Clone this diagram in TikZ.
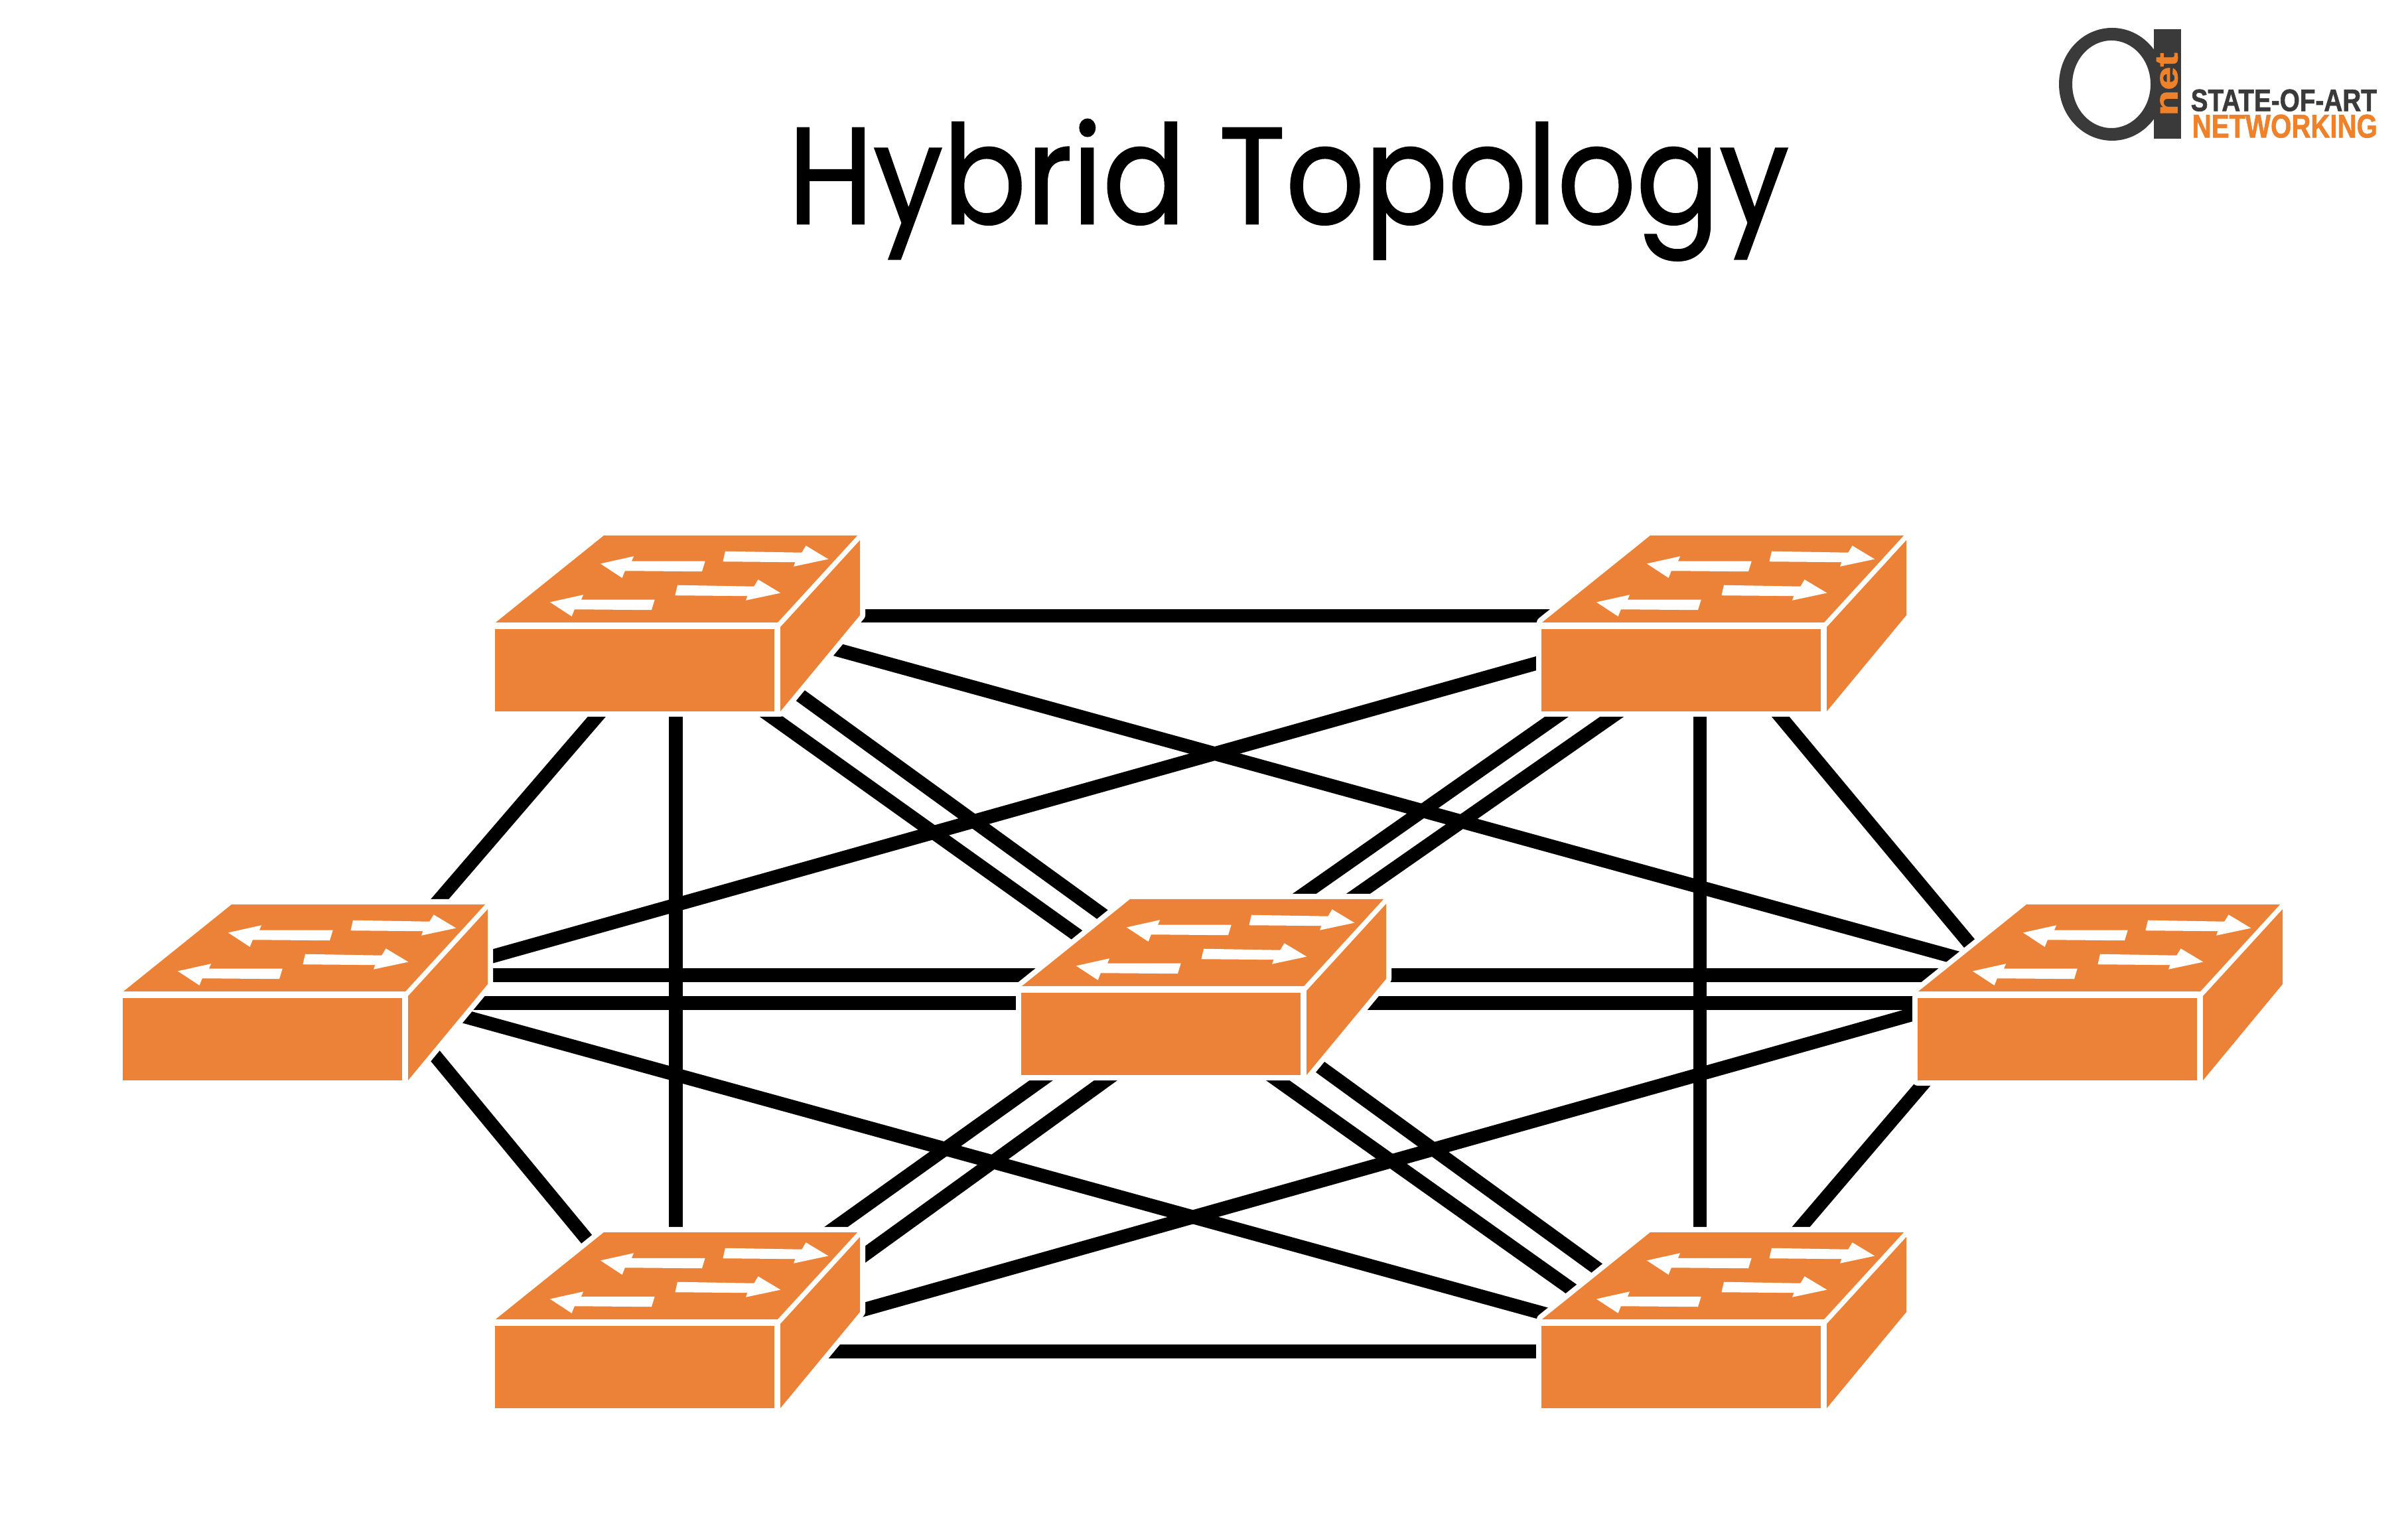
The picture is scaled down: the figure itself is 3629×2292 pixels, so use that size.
\documentclass[tikz,border=0pt]{standalone}
\usepackage{fontspec}
\usepackage{graphicx}
\setmainfont{Poppins}[FakeBold=1.2]
\newfontfamily\logofont{Liberation Sans}[FakeBold=1.5]
\definecolor{swor}{HTML}{EC8237}
\definecolor{logodark}{HTML}{3A3A3A}
\definecolor{logoor}{HTML}{EE8129}
\tikzset{
  link/.style={draw=black,line width=0.205cm,shorten >=-0.3cm,shorten <=-0.3cm},
  swface/.style={fill=swor,draw=none},
  swarrow/.style={fill=white,draw=white,line width=0.025cm},
  netswitch/.pic={
    \fill[white,draw=white,line width=0.16cm,line join=round]
      (0,265)--(0,141)--(1,131)--(164,0)--(546,0)--(550,7)--(550,120)--(430,265)--cycle;
    \path[swface] (1,131)--(426,131)--(546,0)--(164,0)--cycle;
    \path[swface] (0,141)--(421,141)--(421,265)--(0,265)--cycle;
    \path[swface] (430,138)--(550,7)--(550,120)--(430,265)--cycle;
    \path[swarrow] (162,43)--(207,33)--(204,40)--(315,40)--(311,53)--(195,52)--(191,62)--cycle;
    \path[swarrow] (348,25)--(463,27)--(469,17)--(499,35)--(452,45)--(454,39)--(345,38)--cycle;
    \begin{scope}[shift={(-72,51)}]
      \path[swarrow] (348,25)--(463,27)--(469,17)--(499,35)--(452,45)--(454,39)--(345,38)--cycle;
    \end{scope}
    \begin{scope}[shift={(-76,58)}]
      \path[swarrow] (162,43)--(207,33)--(204,40)--(315,40)--(311,53)--(195,52)--(191,62)--cycle;
    \end{scope}
  }
}
\begin{document}
\begin{tikzpicture}[x=0.01cm,y=-0.01cm]
\useasboundingbox (0,0) rectangle (3629,2292);
\fill[white] (0,0) rectangle (3629,2292);
% connector end points (in units of the 1568-wide view)
\begin{scope}[scale=2.3144]
\coordinate (a1) at (563,401);   \coordinate (a2) at (1010,401);
\coordinate (b1) at (545,423);   \coordinate (b2) at (1272,623);
\coordinate (c1) at (1000,432);  \coordinate (c2) at (323,622);
\coordinate (d1) at (303,662);   \coordinate (d2) at (1008,856);
\coordinate (e1) at (1247,660);  \coordinate (e2) at (565,852);
\coordinate (f1) at (540,880);   \coordinate (f2) at (1000,880);
\coordinate (g1) at (390,465);   \coordinate (g2) at (285,587);
\coordinate (h1) at (440,465);   \coordinate (h2) at (440,800);
\coordinate (i1) at (1107,465);  \coordinate (i2) at (1107,800);
\coordinate (j1) at (1158,465);  \coordinate (j2) at (1283,615);
\coordinate (k1) at (283,687);   \coordinate (k2) at (383,808);
\coordinate (l1) at (1252,706);  \coordinate (l2) at (1170,802);
\coordinate (m1) at (323,635);   \coordinate (m2) at (675,635);
\coordinate (n1) at (315,653);   \coordinate (n2) at (660,653);
\coordinate (o1) at (907,635);   \coordinate (o2) at (1260,635);
\coordinate (p1) at (890,653);   \coordinate (p2) at (1247,653);
\coordinate (q1) at (520,452);   \coordinate (q2) at (720,597);
\coordinate (r1) at (500,465);   \coordinate (r2) at (703,610);
\coordinate (s1) at (1016,465);  \coordinate (s2) at (845,585);
\coordinate (t1) at (1052,465);  \coordinate (t2) at (880,585);
\coordinate (u1) at (680,702);   \coordinate (u2) at (540,802);
\coordinate (v1) at (722,702);   \coordinate (v2) at (563,817);
\coordinate (w1) at (860,695);   \coordinate (w2) at (1043,828);
\coordinate (y1) at (830,702);   \coordinate (y2) at (1027,842);
\end{scope}
\foreach \n in {a,b,c,d,e,f,g,h,i,j,k,l,m,n,o,p,q,r,s,t,u,v,w,y}
  \path[link] (\n1) -- (\n2);
% switches
\pic (tl) at (746,807) {netswitch};
\pic (tr) at (2323,807) {netswitch};
\pic (ml) at (185,1363) {netswitch};
\pic (mc) at (1539,1355) {netswitch};
\pic (mr) at (2890,1363) {netswitch};
\pic (bl) at (746,1857) {netswitch};
\pic (br) at (2323,1857) {netswitch};
% title
\node[inner sep=0pt,anchor=north west] (title) at (1187,179)
  {\resizebox*{15.07cm}{2.13cm}{Hybrid Topology}};
% logo
\path[fill=logodark,even odd rule]
  (3183,127) ellipse [x radius=80,y radius=85]
  (3182,127) ellipse [x radius=59,y radius=66];
\fill[logodark] (3246,44) rectangle (3287,209);
\node[inner sep=0pt,rotate=90,text=logoor] (lognet) at (3266,127)
  {\resizebox*{0.95cm}{0.32cm}{\logofont\bfseries net}};
\node[inner sep=0pt,anchor=north west,text=logodark] (logstate) at (3301,134)
  {\resizebox*{2.80cm}{0.33cm}{\logofont\bfseries STATE-OF-ART}};
\node[inner sep=0pt,anchor=north west,text=logoor] (lognetw) at (3303,172)
  {\resizebox*{2.79cm}{0.35cm}{\logofont\bfseries NETWORKING}};
\end{tikzpicture}
\end{document}
